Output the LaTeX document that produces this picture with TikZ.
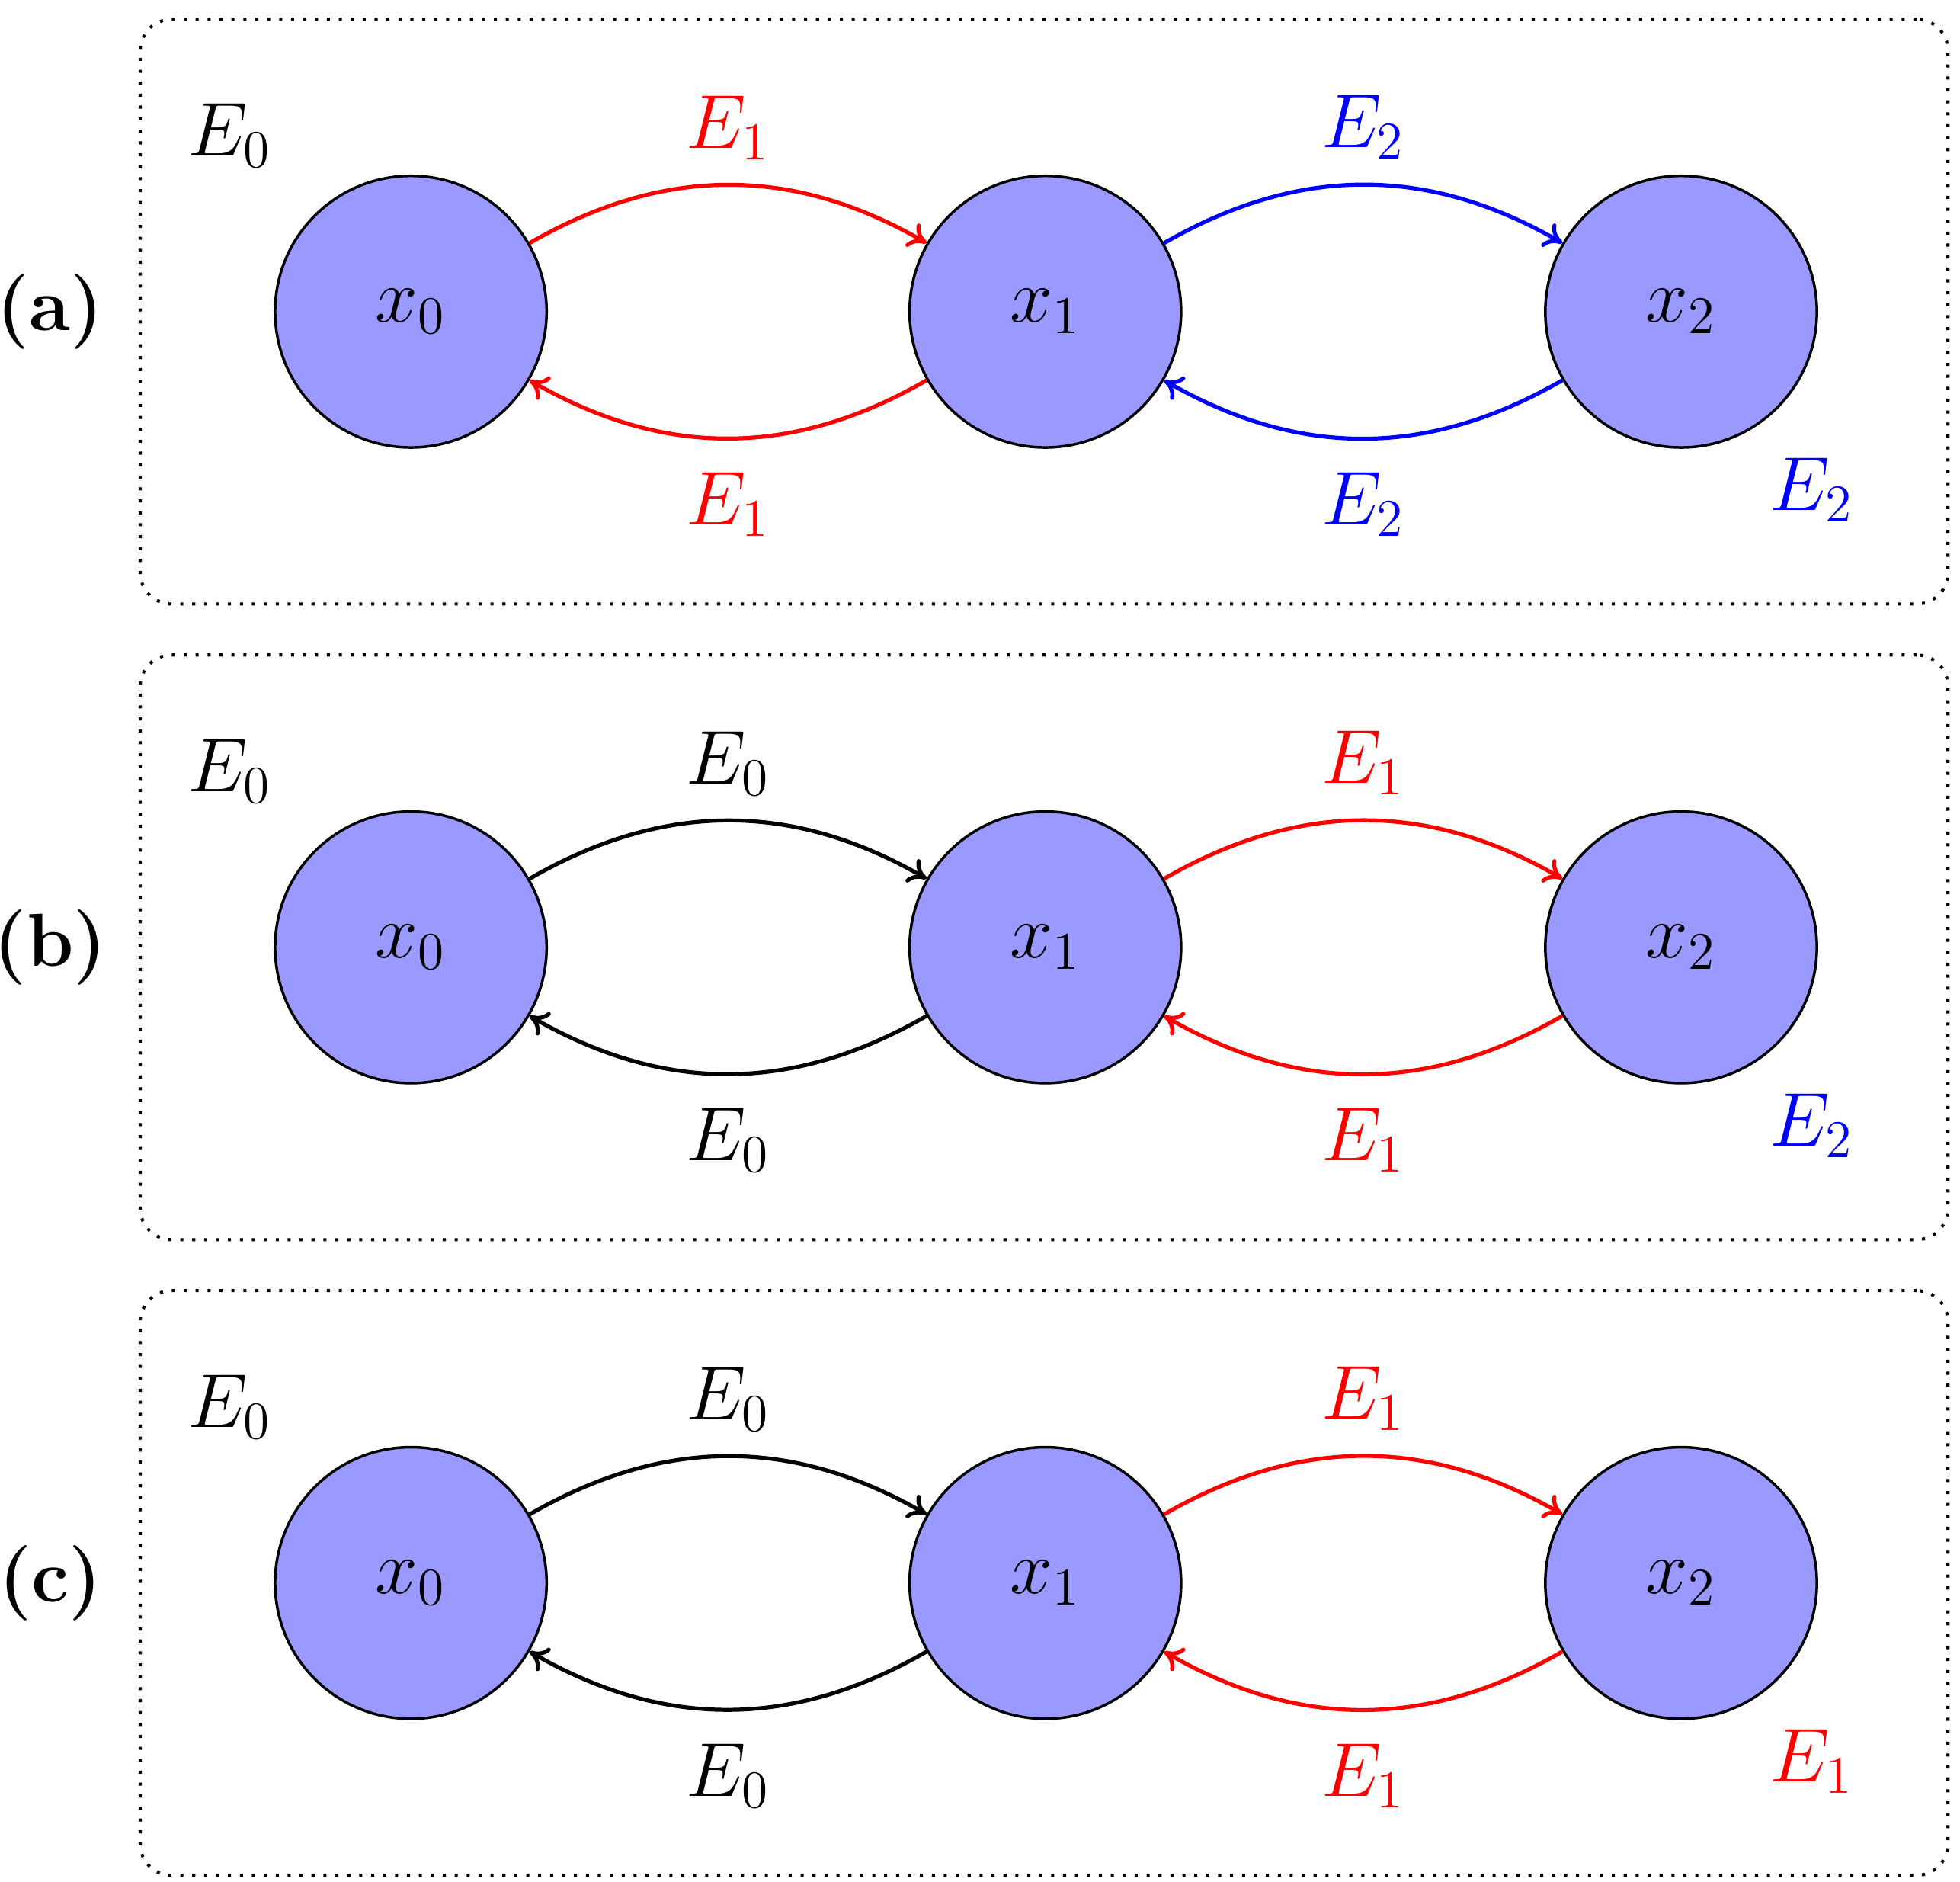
\documentclass[tikz,border=0pt]{standalone}
\usetikzlibrary{arrows.meta}
\begin{document}
\begin{tikzpicture}[x=0.01cm,y=-0.01cm,
  st/.style={circle,draw=black,line width=0.6pt,fill={rgb,255:red,153;green,153;blue,255},minimum size=2.16cm,inner sep=0pt,font=\fontsize{17}{20}\selectfont},
  lab/.style={font=\fontsize{17}{20}\selectfont},
  ar/.style={line width=0.9pt,-{To[length=4pt,width=6pt]}},
  box/.style={draw,dotted,line width=0.7pt,rounded corners=0.25cm}]
\useasboundingbox (0,0) rectangle (1560,1497);
\foreach \i/\tag/\ca/\cb/\cr/\la/\lb/\lr in {0/a/red/blue/blue/1/2/2, 1/b/black/red/blue/0/1/2, 2/c/black/red/red/0/1/1}{
  \begin{scope}[yshift=-\i*5.055cm]
  \node[box,minimum width=14.38cm,minimum height=4.65cm] (box\tag) at (831,248) {};
  \node[font=\fontsize{17}{20}\selectfont\bfseries] (p\tag) at (40,248) {(\tag)};
  \node[lab] (e\tag) at (183,108) {$E_0$};
  \node[st] (a\tag) at (327,248) {$x_0$};
  \node[st] (b\tag) at (832,248) {$x_1$};
  \node[st] (c\tag) at (1338,248) {$x_2$};
  \draw[ar,\ca] (a\tag) to[out=30,in=150] node[lab,above=2pt] {$E_{\la}$} (b\tag);
  \draw[ar,\ca] (b\tag) to[out=-150,in=-30] node[lab,below=4pt] {$E_{\la}$} (a\tag);
  \draw[ar,\cb] (b\tag) to[out=30,in=150] node[lab,above=2pt] {$E_{\lb}$} (c\tag);
  \draw[ar,\cb] (c\tag) to[out=-150,in=-30] node[lab,below=4pt] {$E_{\lb}$} (b\tag);
  \node[lab,text=\cr] (r\tag) at (1442,390) {$E_{\lr}$};
  \end{scope}
}
\end{tikzpicture}
\end{document}
